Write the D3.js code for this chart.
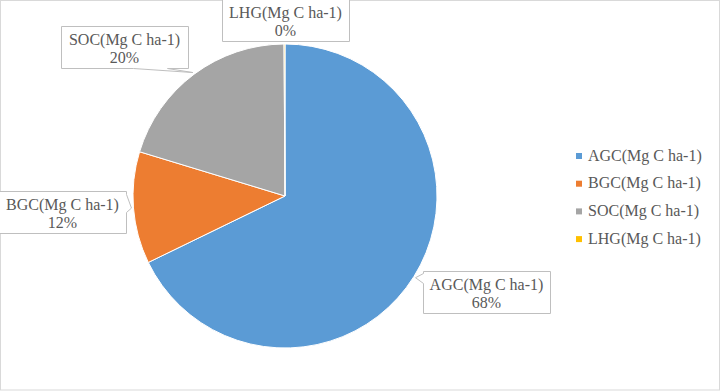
<!DOCTYPE html>
<html>
<head>
<meta charset="utf-8">
<script src="https://cdn.jsdelivr.net/npm/d3@7"></script>
<style>
  body { margin: 0; background: #fff; }
  svg { display: block; font-family: "Liberation Serif", "Times New Roman", serif; }
</style>
</head>
<body>
<div id="chart"></div>
<script>
// data
const categories = ["AGC(Mg C ha-1)", "BGC(Mg C ha-1)", "SOC(Mg C ha-1)", "LHG(Mg C ha-1)"];
const values = [67.8, 11.9, 20.2, 0.1];
const colors = ["#5B9BD5", "#ED7D31", "#A5A5A5", "#FFC000"];

const W = 721, H = 392;
const cx = 285, cy = 196, r = 152;
const textColor = "#595959";

// label box placement (top-left) and which side the pointer leaves from
const labelLayout = [
  { x: 423, y: 271, side: "left", a: 2, b: 12 },
  { x: -1, y: 191, side: "right", a: 3, b: 21 },
  { x: 61, y: 26, side: "bottom", a: 72, b: 106 },
  { x: 222, y: -1, side: "none" }
];
const boxW = 127, boxH = 42;

const svg = d3
  .select("#chart")
  .append("svg")
  .attr("width", W)
  .attr("height", H);

// chart area border
svg
  .append("rect")
  .attr("x", 0.5)
  .attr("y", 0.5)
  .attr("width", W - 2)
  .attr("height", H - 2.5)
  .attr("fill", "#fff")
  .attr("stroke", "#D9D9D9");

const pie = d3.pie().sort(null).value((d) => d);
const arcs = pie(values);
const arc = d3.arc().innerRadius(0).outerRadius(r);

const g = svg.append("g").attr("transform", `translate(${cx},${cy})`);

g.selectAll("path.slice")
  .data(arcs)
  .enter()
  .append("path")
  .attr("class", "slice")
  .attr("d", arc)
  .attr("fill", (d, i) => colors[i])
  .attr("stroke", "#fff")
  .attr("stroke-width", 1);

const total = d3.sum(values);

function calloutPath(L, tip) {
  const x = L.x + 0.5, y = L.y + 0.5, w = boxW, h = boxH;
  const t = `${tip[0]},${tip[1]}`;
  if (L.side === "left")
    return `M${x},${y}H${x + w}V${y + h}H${x}V${y + L.b}L${t}L${x},${y + L.a}Z`;
  if (L.side === "right")
    return `M${x},${y}H${x + w}V${y + L.a}L${t}L${x + w},${y + L.b}V${y + h}H${x}Z`;
  if (L.side === "bottom")
    return `M${x},${y}H${x + w}V${y + h}H${x + L.b}L${t}L${x + L.a},${y + h}H${x}Z`;
  return `M${x},${y}H${x + w}V${y + h}H${x}Z`;
}

arcs.forEach((d, i) => {
  const L = labelLayout[i];
  const mid = (d.startAngle + d.endAngle) / 2;
  const tip = [cx + (r + 2) * Math.sin(mid), cy - (r + 2) * Math.cos(mid)];

  svg
    .append("path")
    .attr("d", calloutPath(L, tip))
    .attr("fill", "#fff")
    .attr("stroke", "#BFBFBF")
    .attr("stroke-width", 1);

  const tx = L.x + boxW / 2;
  svg
    .append("text")
    .attr("x", tx)
    .attr("y", L.y + 19)
    .attr("text-anchor", "middle")
    .attr("font-size", 16)
    .attr("fill", textColor)
    .text(categories[i]);
  svg
    .append("text")
    .attr("x", tx)
    .attr("y", L.y + 37)
    .attr("text-anchor", "middle")
    .attr("font-size", 16)
    .attr("fill", textColor)
    .text(Math.round((values[i] / total) * 100) + "%");
});

// legend
const legend = svg
  .selectAll("g.legend")
  .data(categories)
  .enter()
  .append("g")
  .attr("class", "legend")
  .attr("transform", (d, i) => `translate(576,${155 + i * 27.7})`);

legend
  .append("rect")
  .attr("x", 0)
  .attr("y", -2)
  .attr("width", 6)
  .attr("height", 6)
  .attr("fill", (d, i) => colors[i]);

legend
  .append("text")
  .attr("x", 12)
  .attr("y", 5.5)
  .attr("font-size", 16)
  .attr("fill", textColor)
  .text((d) => d);
</script>
</body>
</html>
